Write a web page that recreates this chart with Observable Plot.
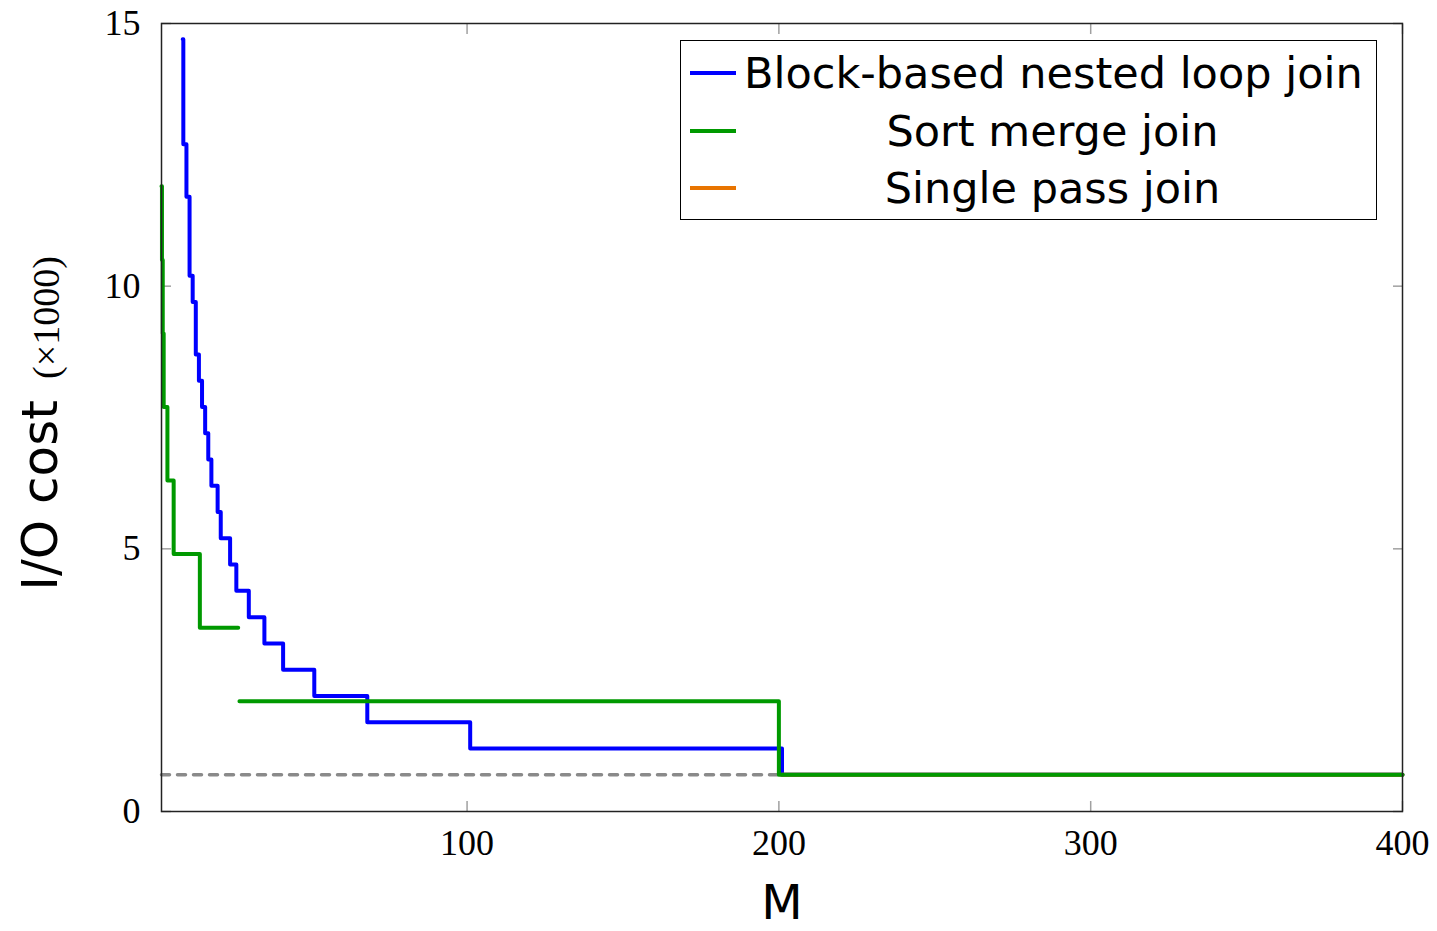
<!DOCTYPE html>
<html><head><meta charset="utf-8">
<script src="https://cdn.jsdelivr.net/npm/d3@7"></script>
<script src="https://cdn.jsdelivr.net/npm/@observablehq/plot@0.6"></script>
<style>
html,body{margin:0;padding:0;background:#fff;}
#wrap{position:relative;width:1437px;height:931px;}
#legend{position:absolute;left:680px;top:40px;width:697px;height:180px;box-sizing:border-box;border:1.5px solid #000;background:#fff;font-family:"DejaVu Sans";color:#000;}
.row{position:absolute;left:0;height:50px;width:100%;}
.sw{position:absolute;left:9px;top:23px;width:46px;height:0;border-top:4px solid;}
.lab{position:absolute;left:63px;width:617px;top:0;height:50px;line-height:50px;text-align:center;font-size:43px;white-space:nowrap;}
</style></head>
<body><div id="wrap"><div id="chart"></div><div id="legend"></div></div>
<script>
// Block-based nested loop join (I/O cost in thousands), step breakpoints
const blockM    = [8.8, 9, 10, 11, 12, 13, 14, 15, 16, 17, 18, 20, 21, 24, 26, 30, 35, 41, 51, 68, 101, 201, 400];
const blockCost = [14.7, 12.7, 11.7, 10.2, 9.7, 8.7, 8.2, 7.7, 7.2, 6.7, 6.2, 5.7, 5.2, 4.7, 4.2, 3.7, 3.2, 2.7, 2.2, 1.7, 1.2, 0.7, 0.7];
// Sort merge join: multi-pass part and two/one-pass part
const sortM1    = [2, 2.15, 2.4, 2.7, 3.9, 5.9, 14.3, 26.6];
const sortCost1 = [11.9, 10.5, 9.1, 7.7, 6.3, 4.9, 3.5, 3.5];
const sortM2    = [27, 200, 400];
const sortCost2 = [2.1, 0.7, 0.7];
// Single pass join
const singleM    = [201, 400];
const singleCost = [0.7, 0.7];
// Lower bound reference (dotted)
const boundM    = [2, 200];
const boundCost = [0.7, 0.7];

const xTicks = [100, 200, 300, 400];
const yTicks = [0, 5, 10, 15];

const seriesNames  = ["Block-based nested loop join", "Sort merge join", "Single pass join"];
const seriesColors = ["#0000ff", "#009900", "#e87400"];

const toRows = (ms, cs) => ms.map((m, i) => ({M: m, cost: cs[i]}));
const block = toRows(blockM, blockCost);
const sort1 = toRows(sortM1, sortCost1);
const sort2 = toRows(sortM2, sortCost2);
const single = toRows(singleM, singleCost);
const bound = toRows(boundM, boundCost);

const tickStyle = {tickSize: -10, stroke: "#a0a0a0", strokeWidth: 1.5, tickFormat: () => "", label: null};
const fmt = d => String(d);

const chart = Plot.plot({
  width: 1437, height: 931,
  marginLeft: 161, marginRight: 35, marginTop: 23, marginBottom: 120,
  x: {domain: [2, 400], label: null},
  y: {domain: [0, 15], label: null},
  style: {fontFamily: "Liberation Serif", fontSize: "36px", background: "#fff", color: "#000"},
  marks: [
    Plot.axisX(xTicks, {anchor: "bottom", ...tickStyle}),
    Plot.axisX(xTicks, {anchor: "top", ...tickStyle}),
    Plot.axisY(yTicks, {anchor: "left", ...tickStyle}),
    Plot.axisY(yTicks, {anchor: "right", ...tickStyle}),
    Plot.axisX(xTicks, {anchor: "bottom", tickSize: 0, tickPadding: 18, fontSize: 36, tickFormat: fmt, label: null}),
    Plot.axisY(yTicks, {anchor: "left", tickSize: 0, tickPadding: 21, fontSize: 36, tickFormat: fmt, label: null}),
    Plot.line(bound, {x: "M", y: "cost", stroke: "#8a8a8a", strokeWidth: 3.5, strokeDasharray: "8,8"}),
    Plot.line(block, {x: "M", y: "cost", curve: "step-after", stroke: seriesColors[0], strokeWidth: 4}),
    Plot.line(single, {x: "M", y: "cost", stroke: seriesColors[2], strokeWidth: 4}),
    Plot.line(sort1, {x: "M", y: "cost", curve: "step-after", stroke: seriesColors[1], strokeWidth: 4}),
    Plot.line(sort2, {x: "M", y: "cost", curve: "step-after", stroke: seriesColors[1], strokeWidth: 4}),
    Plot.frame({stroke: "#222", strokeWidth: 1.5}),
    Plot.text(["M"], {frameAnchor: "bottom", dy: 92, fontSize: 48, fontFamily: "DejaVu Sans", lineAnchor: "middle"}),
    Plot.text(["I/O cost"], {frameAnchor: "left", rotate: -90, dx: -121, dy: 78, fontSize: 50, fontFamily: "DejaVu Sans", lineAnchor: "middle", textAnchor: "middle"}),
    Plot.text(["(×1000)"], {frameAnchor: "left", rotate: -90, dx: -115, dy: -100, fontSize: 38, fontFamily: "Liberation Serif", lineAnchor: "middle", textAnchor: "middle"})
  ]
});
document.getElementById("chart").appendChild(chart);

const legend = document.getElementById("legend");
const rowCenters = [32, 90, 147];
seriesNames.forEach((name, i) => {
  const row = document.createElement("div");
  row.className = "row";
  row.style.top = (rowCenters[i] - 25) + "px";
  const sw = document.createElement("div");
  sw.className = "sw";
  sw.style.borderTopColor = seriesColors[i];
  const lab = document.createElement("div");
  lab.className = "lab";
  lab.textContent = name;
  row.appendChild(sw);
  row.appendChild(lab);
  legend.appendChild(row);
});
</script>
</body></html>
